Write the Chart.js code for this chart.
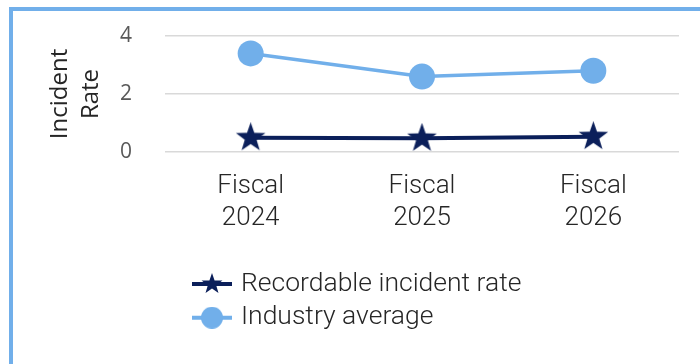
<!DOCTYPE html>
<html>
<head>
<meta charset="utf-8">
<title>Incident Rate</title>
<script src="https://cdn.jsdelivr.net/npm/chart.js@4.4.1/dist/chart.umd.min.js"></script>
<style>
  html, body { margin: 0; padding: 0; background: #fff; }
  .frame {
    position: absolute;
    left: 9px;
    top: 7px;
    width: 687px;
    height: 353px;
    border-left: 4px solid #71AFEA;
    border-top: 4px solid #71AFEA;
  }
  canvas { display: block; }
</style>
</head>
<body>
<div class="frame"><canvas id="incidentChart" width="687" height="353"></canvas></div>
<script>
const years = [["Fiscal", "2024"], ["Fiscal", "2025"], ["Fiscal", "2026"]];
const recordableRate = [0.49, 0.47, 0.53];
const industryAverage = [3.4, 2.6, 2.8];
const yTicks = [0, 2, 4];

const navy = "#0B1F5A";
const lightBlue = "#71AFEA";

// filled marker drawn on a small canvas so it can be used as a pointStyle
function makeMarker(shape, size, color) {
    const c = document.createElement("canvas");
    c.width = c.height = size;
    const g = c.getContext("2d");
    const r = size / 2;
    g.fillStyle = color;
    g.beginPath();
    if (shape === "star") {
        for (let i = 0; i < 10; i++) {
            const rad = i % 2 ? r * 0.4 : r;
            const a = -Math.PI / 2 + (i * Math.PI) / 5;
            g.lineTo(r + rad * Math.cos(a), r + rad * Math.sin(a));
        }
        g.closePath();
    } else {
        g.arc(r, r, r, 0, Math.PI * 2);
    }
    g.fill();
    return c;
}

const legendMarkers = [makeMarker("star", 22, navy), makeMarker("circle", 22, lightBlue)];

// legend with a line segment through the marker, stacked in two rows
const lineLegend = {
    id: "lineLegend",
    afterDraw(chart) {
        const ctx = chart.ctx;
        const sets = chart.data.datasets;
        ctx.save();
        ctx.font = "300 26.5px Roboto";
        const textW = Math.max(...sets.map((d) => ctx.measureText(d.label).width));
        const boxW = 40;
        const gap = 9;
        const x0 = Math.round((chart.width - (boxW + gap + textW)) / 2);
        let y = chart.chartArea.bottom + 132;
        sets.forEach((ds, i) => {
            ctx.strokeStyle = ds.borderColor;
            ctx.lineWidth = 4;
            ctx.beginPath();
            ctx.moveTo(x0, y);
            ctx.lineTo(x0 + boxW, y);
            ctx.stroke();
            const m = legendMarkers[i];
            ctx.drawImage(m, x0 + boxW / 2 - m.width / 2, y - m.height / 2);
            ctx.fillStyle = "#262626";
            ctx.textBaseline = "middle";
            ctx.fillText(ds.label, x0 + boxW + gap, y);
            y += 33.7;
        });
        ctx.restore();
    },
};

const ctx = document.getElementById("incidentChart").getContext("2d");
new Chart(ctx, {
    type: "line",
    data: {
        labels: years,
        datasets: [
            {
                label: "Recordable incident rate",
                data: recordableRate,
                borderColor: navy,
                backgroundColor: navy,
                borderWidth: 4,
                pointStyle: makeMarker("star", 31, navy),
            },
            {
                label: "Industry average",
                data: industryAverage,
                borderColor: lightBlue,
                backgroundColor: lightBlue,
                borderWidth: 3.5,
                pointStyle: "circle",
                pointRadius: 13,
                pointBorderWidth: 0,
            },
        ],
    },
    options: {
        responsive: false,
        animation: false,
        layout: {
            autoPadding: false,
            padding: { top: 25, right: 21, bottom: 132, left: 0 },
        },
        plugins: {
            legend: { display: false },
            tooltip: { enabled: false },
        },
        scales: {
            x: {
                offset: true,
                grid: { display: false },
                border: { display: false },
                ticks: {
                    padding: 11,
                    color: "#262626",
                    font: { family: "Roboto", size: 26, weight: 300, lineHeight: 1.22 },
                },
                afterFit(scale) {
                    scale.height = 80;
                    scale.paddingLeft = 0;
                    scale.paddingRight = 0;
                },
            },
            y: {
                min: yTicks[0],
                max: yTicks[yTicks.length - 1],
                ticks: {
                    stepSize: yTicks[1] - yTicks[0],
                    padding: 33,
                    color: "#595959",
                    font: { family: "Open Sans", size: 21 },
                },
                grid: { color: "#D9D9D9", lineWidth: 1.5, drawTicks: false },
                border: { display: false },
                title: {
                    display: true,
                    text: ["Incident", "Rate"],
                    color: "#262626",
                    font: { family: "Open Sans", size: 24, lineHeight: 1.29 },
                    padding: { top: 32, bottom: 0 },
                },
                afterFit(scale) {
                    scale.width = 152;
                    scale.paddingTop = 0;
                    scale.paddingBottom = 0;
                },
            },
        },
    },
    plugins: [lineLegend],
});
</script>
</body>
</html>
